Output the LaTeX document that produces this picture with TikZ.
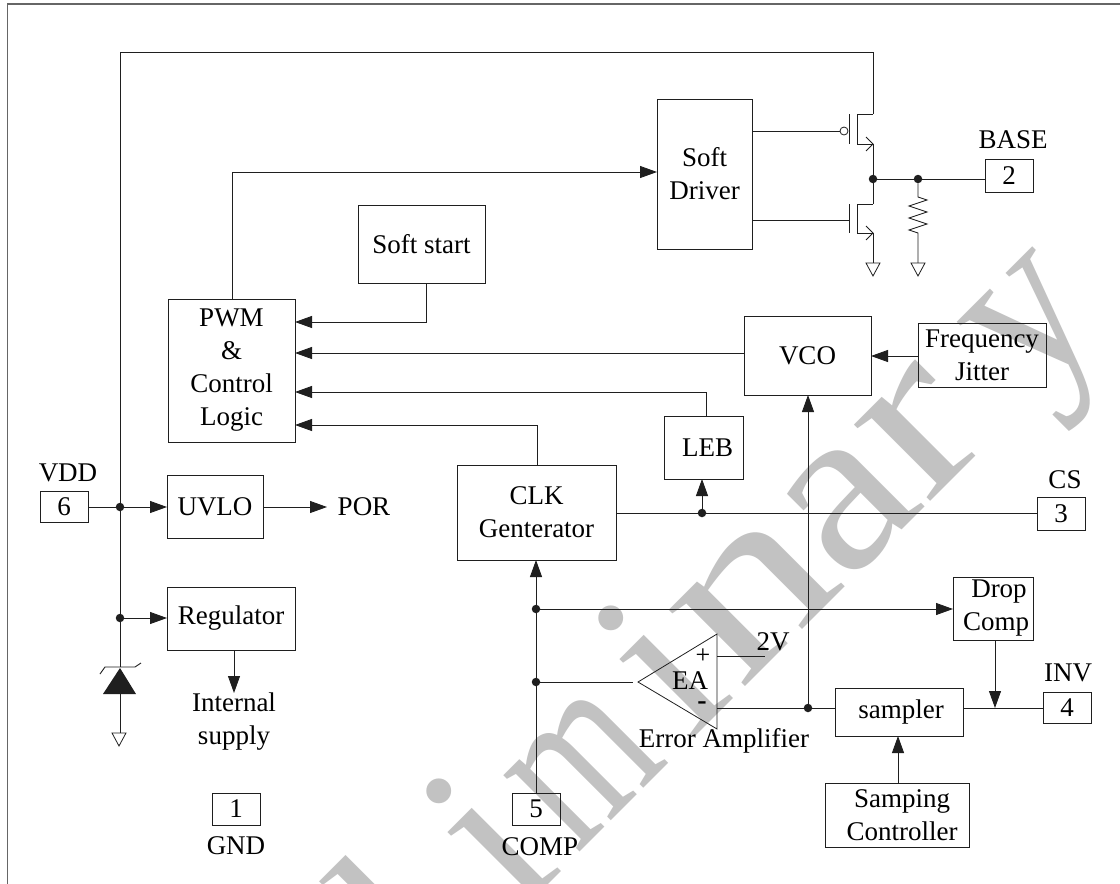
\documentclass[tikz,border=0pt]{standalone}
\usepackage{fontspec}
\setmainfont{Liberation Serif}
\usetikzlibrary{arrows.meta,calc}
\definecolor{wmark}{gray}{0.76}
\definecolor{ink}{gray}{0.12}
\tikzset{
  wire/.style={draw=ink,line width=0.9pt},
  arr/.style={wire,-{Triangle[length=17pt,width=12pt]}},
  blockbox/.style={draw=ink,line width=0.9pt,fill=none,inner sep=0pt,outer sep=0pt,align=center},
  lbl/.style={inner sep=0pt,outer sep=0pt,align=center},
  jdot/.style={circle,fill=ink,minimum size=8.5pt,inner sep=0pt,outer sep=0pt},
  gndsym/.style={draw=ink,line width=0.8pt,fill=white},
  mosarrow/.style={draw=ink,line width=0.8pt},
  frameline/.style={draw=black!60,line width=1.4pt},
  wmletter/.style={inner sep=0pt,outer sep=0pt,anchor=base west,rotate=45,text=wmark,font=\fontsize{235}{235}\selectfont},
  every node/.append style={font=\fontsize{27}{33}\selectfont,text=black}
}
% name, x0, y0, x1, y1, text
\newcommand{\bx}[6]{%
  \pgfmathsetmacro{\bxw}{#4-#2}\pgfmathsetmacro{\bxh}{#5-#3}%
  \pgfmathsetmacro{\bxa}{(#2+#4)/2}\pgfmathsetmacro{\bxb}{(#3+#5)/2}%
  \node[blockbox,minimum width=\bxw pt,minimum height=\bxh pt] (#1) at (\bxa,\bxb) {#6};}
\newcommand{\gnd}[2]{\draw[gndsym] (#1-7,#2) -- (#1+7,#2) -- (#1,#2+13) -- cycle;}
% watermark letter: name, position along the 45-degree baseline, x scale, glyph
\newcommand{\wm}[4]{%
  \pgfmathsetmacro{\wma}{716+#2*0.7071}\pgfmathsetmacro{\wmb}{716-#2*0.7071}%
  \node[wmletter,xscale=#3] (#1) at (\wma,\wmb) {#4};}
\begin{document}
\begin{tikzpicture}[x=1pt,y=-1pt]
\useasboundingbox (0,0) rectangle (1120,884);
\begin{scope}
\clip (0,0) rectangle (1120,884);
\fill[white] (0,0) rectangle (1120,884);
\wm{wmP}{-720}{1}{P}
\wm{wmr}{-600}{1}{r}
\wm{wme}{-510}{1}{e}
\wm{wml}{-402}{1}{l}
\wm{wmia}{-280}{1}{i}
\wm{wmm}{-196}{0.72}{m}
\wm{wmib}{-36}{1}{i}
\wm{wmn}{35}{1.3}{n}
\wm{wmaa}{185}{1.1}{a}
\wm{wmrr}{298}{1.25}{r}
\wm{wmy}{446}{0.94}{y}
\draw[frameline] (7.5,884) -- (7.5,4) -- (1120,4);
\end{scope}

% blocks
\bx{soft}{657}{99}{752}{249}{Soft\\Driver}
\bx{sstart}{358}{205}{485}{283}{Soft start}
\bx{pwm}{168}{299}{295}{442}{PWM\\\&\\Control\\Logic}
\bx{vco}{744}{316}{871}{395}{VCO}
\bx{jitter}{918}{323}{1046}{387}{Frequency\\Jitter}
\bx{leb}{664}{416}{743}{479}{\hspace*{8pt}LEB}
\bx{clk}{457}{465}{616}{560}{CLK\\Genterator}
\bx{uvlo}{167}{475}{263}{538}{UVLO}
\bx{reg}{167}{587}{295}{650}{Regulator}
\bx{drop}{953}{577}{1033}{640}{\hspace*{12pt}Drop\\\hspace*{6pt}Comp}
\bx{sampler}{835}{688}{963}{736}{\hspace*{4pt}sampler}
\bx{sctrl}{825}{783}{969}{847}{\hspace*{10pt}Samping\\\hspace*{10pt}Controller}
% pins
\bx{pin1}{212}{793}{260}{825}{1}
\bx{pin2}{985}{159}{1033}{192}{2}
\bx{pin3}{1037}{497}{1085}{530}{3}
\bx{pin4}{1043}{692}{1091}{723}{4}
\bx{pin5}{512}{793}{560}{825}{5}
\bx{pin6}{40}{491}{88}{522}{6}
% pin and free labels
\node[lbl] (tbase) at (1013,140) {BASE};
\node[lbl] (tcs) at (1065,480) {CS};
\node[lbl] (tinv) at (1068,673) {INV};
\node[lbl] (tvdd) at (68,473) {VDD};
\node[lbl] (tgnd) at (236,846) {GND};
\node[lbl] (tcomp) at (540,847) {COMP};
\node[lbl] (tpor) at (364,507) {POR};
\node[lbl] (tint) at (234,722) {Internal\\supply};
\node[lbl] (terr) at (724,741) {Error Amplifier};
\node[lbl] (t2v) at (773,642) {2V};

% junctions and free ends
\node[jdot] (jvdd) at (120,507) {};
\node[jdot] (jreg) at (120,618) {};
\node[jdot] (jout) at (873,179) {};
\node[jdot] (jres) at (918,179) {};
\node[jdot] (jleb) at (702,513) {};
\node[jdot] (jdrop) at (536,609) {};
\node[jdot] (jea) at (536,682) {};
\node[jdot] (jinv) at (808,708) {};
\coordinate (jmerge) at (995,708);
\coordinate (ptop) at (873,114);
\coordinate (pbot) at (873,144);
\coordinate (ntop) at (873,204);
\coordinate (nbot) at (873,233);
\coordinate (gn) at (873,263);
\coordinate (gr) at (918,263);
\coordinate (gz) at (120,733);
\coordinate (zk) at (120,667);
\coordinate (za) at (120,694);

% left rail and top wire
\draw[wire] (zk) -- (120,52) -- (873,52) -- (ptop);
\draw[wire] (za) -- (gz);
\fill[ink] (120,668) -- (103,694) -- (136,694) -- cycle;
\draw[wire] (100,674) -- (105,667) -- (135,667) -- (141,663);
\gnd{119}{733}

\draw[wire] (pin6.east |- jvdd) -- (jvdd);
\draw[arr] (jvdd) -- (uvlo.west |- jvdd);
\draw[arr] (uvlo.east |- jvdd) -- (327,507);
\draw[arr] (jreg) -- (reg.west |- jreg);
\draw[arr] (reg.south -| 234,0) -- (234,693);

% control logic inputs and outputs
\draw[arr] (pwm.north -| 232,0) |- (soft.west |- 0,172);
\draw[arr] (sstart.south -| 426,0) |- (pwm.east |- 0,322);
\draw[arr] (vco.west |- 0,353) -- (pwm.east |- 0,353);
\draw[arr] (leb.north -| 706,0) |- (pwm.east |- 0,392);
\draw[arr] (clk.north -| 537,0) |- (pwm.east |- 0,425);
\draw[arr] (jitter.west |- 0,356) -- (vco.east |- 0,356);
\draw[wire] (clk.east |- 0,513) -- (pin3.west |- 0,513);
\draw[arr] (jleb) -- (leb.south -| 702,0);

% transistors
\draw[wire] (soft.east |- 0,131) -- (840,131);
\draw[mosarrow,fill=white] (844,131) circle (4pt);
\draw[wire] (849,114) -- (849,144);
\draw[wire] (ptop) -- (857,114) -- (857,144) -- (pbot);
\draw[wire] (pbot) -- (ntop);
\draw[mosarrow] (866,137) -- (873,144) -- (866,151);
\draw[wire] (soft.east |- 0,220) -- (849,220);
\draw[wire] (849,204) -- (849,233);
\draw[wire] (ntop) -- (857,204) -- (857,233) -- (nbot);
\draw[mosarrow] (866,226) -- (873,233) -- (866,240);
\draw[wire] (nbot) -- (gn);
\gnd{873}{263}
\draw[wire] (jout) -- (jres) -- (pin2.west |- jres);
\draw[wire] (jres) -- (918,197) -- (927,200) -- (909,206) -- (927,212) -- (909,218) -- (927,224) -- (909,230) -- (918,233) -- (gr);
\gnd{918}{263}

% feedback section
\draw[wire] (pin5.north) -- (jea);
\draw[wire] (jea) -- (jdrop);
\draw[arr] (jdrop) -- (clk.south -| 536,0);
\draw[arr] (jdrop) -- (drop.west |- 0,609);
\draw[wire] (jea) -- (633,682);
\draw[draw=ink,line width=0.8pt] (638,682) -- (717,634) -- (717,729) -- cycle;
\node[lbl] (tea) at (690,681) {EA};
\node[lbl,font=\fontsize{26}{26}\selectfont] (tplus) at (703,656) {+};
\node[lbl,font=\bfseries\fontsize{28}{28}\selectfont] (tminus) at (702,706) {-};
\draw[wire] (717,656) -- (765,656);
\draw[wire] (717,708) -- (jinv);
\draw[wire] (jinv) -- (sampler.west |- jinv);
\draw[arr] (jinv) -- (vco.south -| 808,0);
\draw[arr] (drop.south -| 995,0) -- (jmerge);
\draw[wire] (sampler.east |- 0,708) -- (pin4.west |- 0,708);
\draw[arr] (sctrl.north -| 898,0) -- (sampler.south -| 898,0);
\end{tikzpicture}
\end{document}
